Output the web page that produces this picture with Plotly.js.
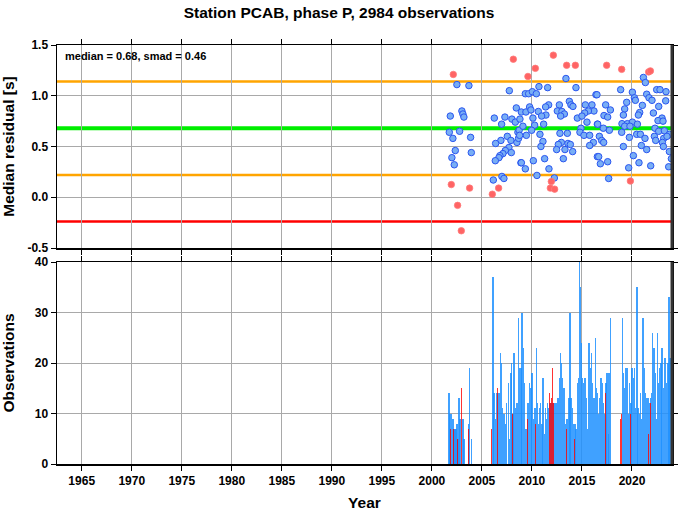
<!DOCTYPE html>
<html>
<head>
<meta charset="utf-8">
<script src="https://cdn.plot.ly/plotly-3.0.1.min.js"></script>
<style>html,body{margin:0;padding:0;background:#fff;}#chart{width:678px;height:511px;}</style>
</head>
<body>
<div id="chart"></div>
<script>
// ---- statistics ----
const median = 0.68;
const smad = 0.46;
const nObs = 2984;

// ---- median residual per event (blue = inside band, red = outside) ----
const blueYears = [2002.5,2003.7,2007.74,2008.44,2001.84,2003.0,2003.1,2003.2,2006.24,2007.3,2006.97,2008.0,2008.34,2001.74,2002.77,2002.1,2003.87,2008.6,2007.54,2007.9,2006.9,2006.37,2008.5,2007.7,2007.34,2007.94,2007.1,2006.8,2006.7,2006.34,2002.34,2002.0,2003.94,2002.24,2008.9,2006.14,2007.0,2007.2,2008.72,2008.66,
 2013.4,2010.7,2011.57,2014.4,2009.34,2009.67,2010.04,2010.44,2016.4,2013.74,2013.9,2011.67,2012.74,2014.1,2011.37,2009.77,2015.34,2016.0,2016.2,2015.64,2015.27,2008.94,2009.4,2009.9,2010.64,2011.4,2010.97,2012.54,2013.0,2013.24,2012.87,2014.54,2015.0,2008.8,2010.1,2015.5,2016.54,2009.1,2010.27,2011.17,2014.9,2014.8,2015.2,2009.97,2009.44,2008.77,2010.8,2012.8,2013.54,2015.77,2016.14,2015.77,2011.1,2010.9,2012.94,2012.64,2012.47,2013.6,2013.84,2013.3,2014.07,2016.54,2013.14,2008.94,2010.14,2011.27,2009.34,2011.7,2010.5,2012.24,
 2021.14,2021.34,2018.87,2020.04,2022.47,2022.8,2023.4,2016.5,2021.47,2020.24,2021.7,2020.34,2022.0,2019.47,2023.37,2017.37,2021.04,2022.67,2019.27,2017.84,2020.77,2022.14,2017.2,2019.14,2020.64,2017.57,2023.0,2022.6,2023.1,2016.57,2019.0,2019.54,2020.04,2020.54,2019.27,2019.8,2017.14,2017.74,2022.3,2022.67,2023.24,2023.74,2018.97,2020.47,2020.84,2021.3,2019.74,2022.24,2022.37,2023.17,2023.5,2016.74,2016.97,2017.17,2023.04,2019.14,2020.94,2021.47,2023.14,2023.74,2016.67,2023.94,2020.14,2017.57,2016.84,2020.7,2021.87,2023.67,2019.67,2017.67];
const blueVals = [1.11,1.10,1.05,0.88,0.80,0.85,0.82,0.79,0.78,0.79,0.72,0.77,0.74,0.64,0.65,0.58,0.59,0.64,0.60,0.56,0.56,0.53,0.54,0.49,0.46,0.44,0.43,0.41,0.39,0.36,0.46,0.39,0.44,0.32,0.34,0.17,0.205,0.185,0.66,0.58,
 1.17,1.09,1.08,1.08,1.02,1.02,1.04,1.02,1.01,0.945,0.91,0.91,0.91,0.895,0.89,0.89,0.91,0.91,0.85,0.85,0.83,0.84,0.84,0.86,0.845,0.81,0.80,0.85,0.845,0.82,0.80,0.78,0.80,0.77,0.78,0.74,0.72,0.70,0.71,0.72,0.68,0.64,0.61,0.66,0.61,0.61,0.62,0.63,0.63,0.61,0.54,0.51,0.55,0.50,0.54,0.52,0.47,0.53,0.52,0.47,0.45,0.40,0.38,0.34,0.36,0.38,0.28,0.28,0.215,0.19,
 1.18,1.13,1.06,1.035,1.06,1.06,1.04,1.01,1.015,0.98,0.98,0.955,0.955,0.935,0.95,0.91,0.905,0.895,0.87,0.86,0.835,0.83,0.805,0.81,0.81,0.79,0.78,0.755,0.75,0.72,0.725,0.725,0.74,0.72,0.70,0.70,0.68,0.66,0.68,0.65,0.655,0.62,0.64,0.62,0.62,0.58,0.59,0.60,0.56,0.58,0.60,0.60,0.56,0.54,0.54,0.50,0.51,0.47,0.50,0.45,0.40,0.38,0.41,0.35,0.33,0.34,0.31,0.30,0.29,0.185];
const redYears = [2002.14,2001.94,2002.57,2002.94,2003.77,2006.04,2006.67,2008.14,2009.6,2010.34,2011.84,2011.94,2012.14,2012.27,2013.47,2014.34,2017.47,2018.97,2019.84,2021.67,2021.84];
const redVals  = [1.21,0.125,-0.08,-0.33,0.09,0.03,0.09,1.36,1.19,1.27,0.09,0.155,1.40,0.08,1.30,1.30,1.30,1.26,0.16,1.235,1.245];

// ---- observation counts per time bin ----
const barYears = [2001.7,2001.8,2001.97,2002.1,2002.2,2002.3,2002.4,2002.5,2002.6,2002.7,2002.8,2003.1,2003.2,2003.65,2003.75,2003.97,
 2006.1,2006.2,2006.37,2006.5,2006.7,2006.84,2006.94,2007.07,2007.2,2007.34,2007.47,2007.64,2007.77,2007.9,2007.97,2008.1,2008.2,2008.37,2008.5,2008.67,2008.8,
 2008.94,2009.0,2009.14,2009.27,2009.4,2009.57,2009.67,2009.77,2009.9,2010.0,2010.14,2010.24,2010.34,2010.44,2010.54,2010.67,2010.77,2010.87,2011.0,2011.1,2011.24,2011.34,2011.44,2011.57,2011.67,2011.8,2012.0,2012.2,2012.34,2012.47,2012.6,2012.74,2012.84,2012.94,2013.07,2013.2,2013.34,2013.47,2013.57,2013.7,2013.8,2013.9,2014.04,2014.17,2014.3,2014.4,2014.54,2014.64,2014.74,2014.87,2014.94,2015.07,2015.17,2015.3,2015.44,2015.54,2015.7,2015.84,2015.97,2016.07,2016.2,2016.34,2016.44,2016.57,
 2016.67,2016.74,2016.9,2017.04,2017.14,2017.27,2017.4,2017.5,2017.64,2017.7,2017.84,2019.04,2019.14,2019.27,2019.4,2019.54,2019.67,2019.77,2019.9,2020.0,2020.14,2020.24,2020.37,2020.5,2020.6,2020.74,2020.84,2020.97,2021.1,2021.24,2021.37,2021.5,2021.64,2021.74,2021.84,2021.94,2022.07,2022.2,2022.34,2022.44,2022.54,2022.67,2022.77,2022.9,2023.0,2023.14,2023.24,2023.37,2023.47,2023.6,2023.7,2023.8,2023.94];
const barCounts = [14,10,10,9,7,7,7,8,5,13,9,9,5,8,19,5,
 37,14,9,14,14,22,20,11,10,8,12,16,5,18,20,10,22,11,12,29,19,
 19,30,23,16,7,12,12,16,15,18,9,11,11,23,12,8,11,12,8,17,6,11,9,12,11,12,12,12,12,12,13,17,22,20,17,15,8,9,9,13,30,13,11,8,8,7,16,17,40,35,24,17,16,17,13,7,24,19,22,16,13,25,15,14,
 10,13,17,16,12,10,16,18,6,18,29,29,18,15,19,19,10,16,12,19,17,19,11,35,11,10,14,9,29,19,14,13,13,12,13,14,26,23,18,9,26,16,19,20,23,15,21,21,16,20,33,21,22];
const redBarYears = [2001.87,2002.2,2002.57,2002.94,2003.7,2006.0,2006.6,2008.1,2009.57,2010.34,2011.8,2011.9,2012.0,2012.1,2012.2,2013.47,2014.3,2017.4,2018.84,2018.94,2019.9,2021.64,2021.84];
const redBarCounts = [7,7,5,15,7,7,15,10,9,8,14,12,13,19,12,7,5,14,9,10,10,6,12];

// ---- axis tick labels ----
const yTopVals = [-0.5,0,0.5,1.0,1.5];
const yTopText = ['-0.5','0.0','0.5','1.0','1.5'];

const FONT = 'Liberation Sans, Arial, Helvetica, sans-serif';

const traces = [
  {type:'scatter', mode:'markers', x:blueYears, y:blueVals, xaxis:'x', yaxis:'y',
   marker:{size:6.5, color:'#78aef5', line:{color:'#2a55f0', width:1}}, hoverinfo:'x+y'},
  {type:'scatter', mode:'markers', x:redYears, y:redVals, xaxis:'x', yaxis:'y',
   marker:{size:6.5, color:'#ff6464', line:{color:'#ff7a7a', width:0.8}}, hoverinfo:'x+y'},
  {type:'bar', x:barYears, y:barCounts, xaxis:'x2', yaxis:'y2', width:0.13,
   marker:{color:'rgba(30,144,255,0.85)', line:{width:0}}},
  {type:'bar', x:redBarYears, y:redBarCounts, xaxis:'x2', yaxis:'y2', width:0.1,
   marker:{color:'rgba(255,0,0,0.8)', line:{width:0}}}
];

const axFont = {family:FONT, size:12, color:'#000', weight:'bold'};
const xCommon = {range:[1962.53, 2024.0], tick0:1965, dtick:5, ticks:'outside', ticklen:5, tickcolor:'#000',
  showgrid:true, gridcolor:'#a9a9a9', gridwidth:1, zeroline:false, showline:true, linecolor:'#000', linewidth:1.5,
  mirror:'allticks', tickfont:axFont};

const layout = {
  width:678, height:511,
  margin:{l:57, r:6, t:45, b:47},
  paper_bgcolor:'#fff', plot_bgcolor:'#fff',
  showlegend:false, barmode:'overlay', bargap:0,
  font:{family:FONT, color:'#000'},
  title:{text:'Station PCAB, phase P, ' + nObs + ' observations', x:0.5, xref:'container', y:0.975, yref:'container', yanchor:'middle',
    font:{family:FONT, size:15.5, color:'#000', weight:'bold'}},
  xaxis:Object.assign({}, xCommon, {anchor:'y', showticklabels:false, domain:[0,1]}),
  yaxis:{domain:[0.5155,1], range:[-0.5,1.5], tickvals:yTopVals, ticktext:yTopText, ticks:'outside', ticklen:5, tickcolor:'#000',
    showgrid:true, gridcolor:'#a9a9a9', zeroline:false, showline:true, linecolor:'#000', linewidth:1.5, mirror:'allticks',
    tickfont:axFont, title:{text:'Median residual [s]', standoff:10, font:{family:FONT, size:15.5, color:'#000', weight:'bold'}}},
  xaxis2:Object.assign({}, xCommon, {anchor:'y2', showticklabels:true, domain:[0,1],
    title:{text:'Year', standoff:12, font:{family:FONT, size:15.5, color:'#000', weight:'bold'}}}),
  yaxis2:{domain:[0,0.4821], range:[0,40], dtick:10, ticks:'outside', ticklen:5, tickcolor:'#000',
    showgrid:true, gridcolor:'#a9a9a9', zeroline:false, showline:true, linecolor:'#000', linewidth:1.5, mirror:'allticks',
    tickfont:axFont, title:{text:'Observations', standoff:18, font:{family:FONT, size:15.5, color:'#000', weight:'bold'}}},
  shapes:[
    {type:'line', xref:'x domain', yref:'y', x0:0, x1:1, y0:median+smad, y1:median+smad, line:{color:'#ffa500', width:2.5}, layer:'below'},
    {type:'line', xref:'x domain', yref:'y', x0:0, x1:1, y0:median, y1:median, line:{color:'#00ee00', width:4}, layer:'below'},
    {type:'line', xref:'x domain', yref:'y', x0:0, x1:1, y0:median-smad, y1:median-smad, line:{color:'#ffa500', width:2.5}, layer:'below'},
    {type:'line', xref:'x domain', yref:'y', x0:0, x1:1, y0:median-2*smad, y1:median-2*smad, line:{color:'#ff0000', width:2.5}, layer:'below'},
    {type:'line', xref:'x domain', yref:'y domain', x0:1, x1:1, y0:0, y1:1, line:{color:'#333', width:3}},
    {type:'line', xref:'x2 domain', yref:'y2 domain', x0:1, x1:1, y0:0, y1:1, line:{color:'#333', width:3}}
  ],
  annotations:[
    {xref:'x domain', yref:'y domain', x:0.01, y:0.985, xanchor:'left', yanchor:'top', showarrow:false,
     text:'median = ' + median.toFixed(2) + ', smad = ' + smad.toFixed(2), font:{family:FONT, size:11, color:'#000', weight:'bold'}}
  ]
};

Plotly.newPlot('chart', traces, layout, {displayModeBar:false, staticPlot:true});
</script>
</body>
</html>
